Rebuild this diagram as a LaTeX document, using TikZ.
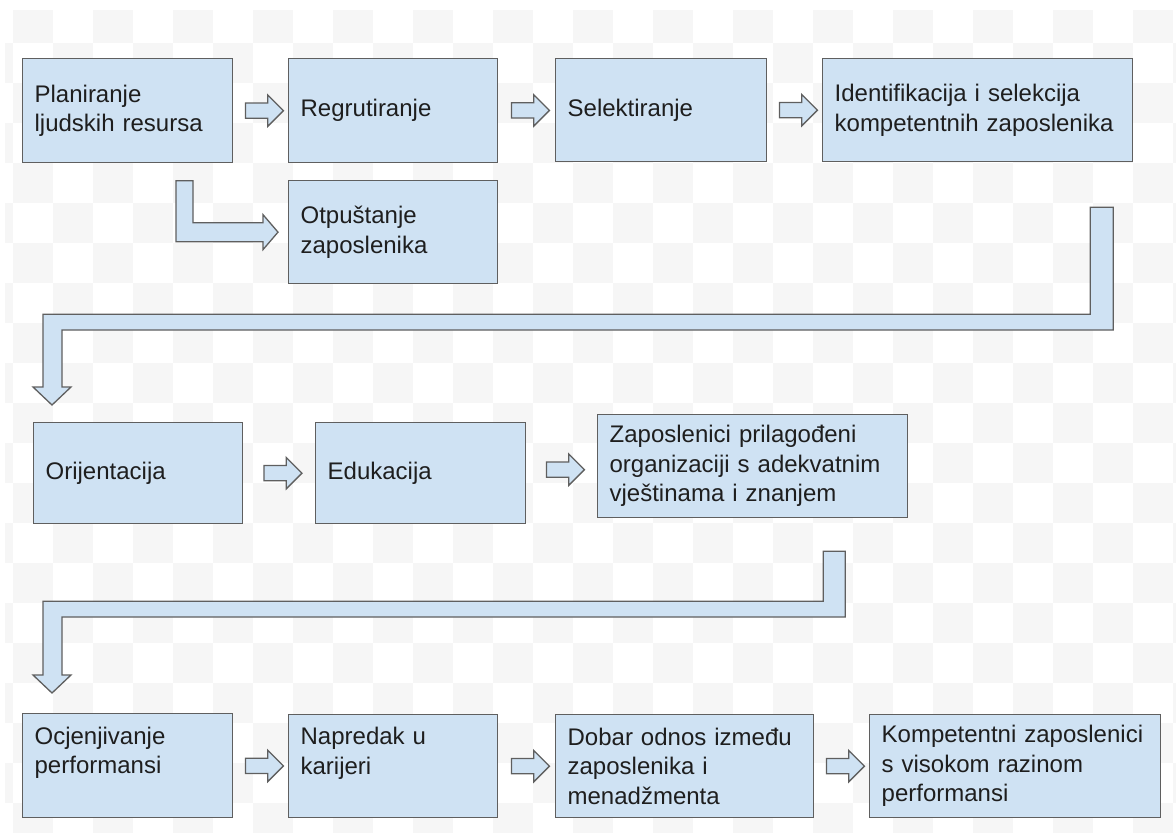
\documentclass[tikz,border=0pt]{standalone}
\usepackage{fontspec}
\setmainfont{Liberation Sans}
\usetikzlibrary{calc,shapes.arrows}
\definecolor{plava}{HTML}{CFE2F3}
\definecolor{rub}{HTML}{5F5F5F}
\definecolor{tekst}{HTML}{1E1E1E}
\definecolor{pozadina}{HTML}{F6F6F6}
\tikzset{
  kutija/.style={draw=rub, fill=plava, line width=1.3pt, anchor=north west,
    inner xsep=12pt, inner ysep=0pt, align=left, text=tekst,
    font=\fontsize{24}{29.5}\selectfont},
  strelica/.style={single arrow, draw=rub, fill=plava, line width=1.3pt,
    minimum height=38pt, inner xsep=0pt, inner ysep=7pt, single arrow head extend=8pt},
  savijena/.style={draw=rub, fill=plava, line width=1.3pt, line join=miter}
}
\begin{document}
\begin{tikzpicture}[x=1pt,y=-1pt]
\useasboundingbox (0,0) rectangle (1176,833);
% pozadina (sahovnica)
\begin{scope}
\clip (5,10) rectangle (1176,833);
\foreach \i in {-1,...,29}{\foreach \j in {0,...,20}{
  \pgfmathtruncatemacro\parnost{mod(\i+\j+2,2)}
  \ifnum\parnost=0 \fill[pozadina] (13+40*\i,3+40*\j) rectangle ++(40,40); \fi}}
\end{scope}
% prvi red
\node[kutija, text width=186pt, minimum height=104pt] (plan) at (22,58) {Planiranje\\ljudskih resursa};
\node[kutija, text width=185pt, minimum height=104pt] (regrut) at (288,58) {Regrutiranje};
\node[kutija, text width=187pt, minimum height=103pt] (selekt) at (555,58) {Selektiranje};
\node[kutija, text width=286pt, minimum height=103pt] (ident) at (822,58) {Identifikacija i selekcija\\kompetentnih zaposlenika};
\node[kutija, text width=185pt, minimum height=103pt] (otpust) at (288,180) {Otpuštanje\\zaposlenika};
% drugi red
\node[kutija, text width=185pt, minimum height=101pt] (orijent) at (33,422) {Orijentacija};
\node[kutija, text width=186pt, minimum height=101pt] (eduk) at (315,422) {Edukacija};
\node[kutija, text width=286pt, minimum height=103pt] (prilag) at (597,414) {Zaposlenici prilagođeni\\organizaciji s adekvatnim\\vještinama i znanjem};
% treci red
\node[kutija, text width=186pt, minimum height=104pt, text depth=60pt] (ocjena) at (22,713) {Ocjenjivanje\\performansi};
\node[kutija, text width=185pt, minimum height=103pt, text depth=60pt] (napredak) at (288,714) {Napredak u\\karijeri};
\node[kutija, text width=234pt, minimum height=103pt] (odnos) at (555,714) {Dobar odnos između\\zaposlenika i\\menadžmenta};
\node[kutija, text width=267pt, minimum height=103pt] (kompet) at (869,714) {Kompetentni zaposlenici\\s visokom razinom\\performansi};
% strelice
\node[strelica] (s1) at ($(plan.east)!0.5!(regrut.west)$) {};
\node[strelica] (s2) at ($(regrut.east)!0.5!(selekt.west)$) {};
\node[strelica] (s3) at ($(selekt.east)!0.5!(ident.west)$) {};
\node[strelica] (s4) at ($(orijent.east)!0.5!(eduk.west)$) {};
\node[strelica] (s5) at ($(eduk.east)!0.5!(prilag.west)$) {};
\node[strelica] (s6) at ($(ocjena.east)!0.5!(napredak.west)$) {};
\node[strelica] (s7) at ($(napredak.east)!0.5!(odnos.west)$) {};
\node[strelica] (s8) at ($(odnos.east)!0.5!(kompet.west)$) {};
% savijene strelice
\draw[savijena] ([xshift=-10pt]otpust.west) -- ++(-15,17.5) -- ++(0,-8) -- ++(-87,0)
  -- ++(0,-61) -- ++(17,0) -- ++(0,42) -- ++(70,0) -- ++(0,-8) -- cycle;
\coordinate (t1) at ([xshift=19pt,yshift=17pt]orijent.north west);
\coordinate (v1) at ([xshift=-20pt,yshift=-45pt]ident.south east);
\draw[savijena] (t1) -- ++(19,-18) -- ++(-9,0) -- ++(0,-57) -| (v1) -- ++(-23,0)
  -- ++(0,107) -| ([xshift=-9pt,yshift=18pt]t1) -- ++(-10,0) -- cycle;
\coordinate (t2) at ([xshift=30pt,yshift=20pt]ocjena.north west);
\coordinate (v2) at ([xshift=-63pt,yshift=-33pt]prilag.south east);
\draw[savijena] (t2) -- ++(19,-18) -- ++(-9,0) -- ++(0,-58) -| (v2) -- ++(-22,0)
  -- ++(0,50) -| ([xshift=-9pt,yshift=18pt]t2) -- ++(-10,0) -- cycle;
\end{tikzpicture}
\end{document}
